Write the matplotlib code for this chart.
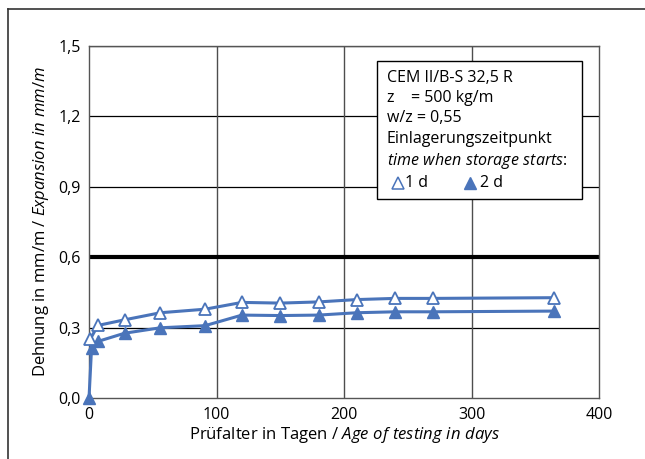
import matplotlib
matplotlib.use("Agg")
import matplotlib.pyplot as plt
from matplotlib.lines import Line2D

plt.rcParams['font.family'] = ['Open Sans', 'DejaVu Sans']
plt.rcParams['mathtext.fontset'] = 'custom'
plt.rcParams['mathtext.rm'] = 'Open Sans'
plt.rcParams['mathtext.it'] = 'Open Sans:italic'

# data
tage_1d = [1, 7, 28, 56, 91, 120, 150, 180, 210, 240, 270, 365]
dehnung_1d = [0.252, 0.31, 0.334, 0.364, 0.379, 0.408, 0.405, 0.41, 0.42, 0.425, 0.425, 0.428]
tage_2d = [0, 2, 7, 28, 56, 91, 120, 150, 180, 210, 240, 270, 365]
dehnung_2d = [0.0, 0.213, 0.242, 0.277, 0.3, 0.309, 0.354, 0.352, 0.354, 0.364, 0.368, 0.368, 0.371]
grenzwert = 0.6
yticks = [0.0, 0.3, 0.6, 0.9, 1.2, 1.5]
xticks = [0, 100, 200, 300, 400]
info_lines = ["CEM II/B-S 32,5 R", "z    = 500 kg/m", "w/z = 0,55", "Einlagerungszeitpunkt",
              r"$\mathit{time\ when\ storage\ starts}$:"]

blue = "#4a74ba"

fig = plt.figure(figsize=(6.45, 4.59), dpi=100)
ax = fig.add_axes([89 / 645, 60.7 / 459, 510 / 645, 352.6 / 459])

# gridlines
for y in yticks[1:]:
    if y == grenzwert:
        continue
    ax.axhline(y, color="black", lw=0.9, zorder=1)
for x in xticks[1:-1]:
    ax.axvline(x, color="#4d4d4d", lw=1.0, zorder=1)
ax.axhline(grenzwert, color="black", lw=3.0, zorder=2)

ax.plot(tage_2d, dehnung_2d, color=blue, lw=2.2, marker="^", ms=9,
        mfc=blue, mec=blue, zorder=3, clip_on=False)
ax.plot(tage_1d, dehnung_1d, color=blue, lw=2.2, marker="^", ms=9,
        mfc="white", mec=blue, mew=1.3, zorder=4, clip_on=False)

ax.set_xlim(0, 400)
ax.set_ylim(0, 1.5)
ax.set_xticks(xticks)
ax.set_yticks(yticks)
ax.set_yticklabels([f"{v:.1f}".replace(".", ",") for v in yticks])
ax.tick_params(length=0, labelsize=11.5, pad=6)
for s in ax.spines.values():
    s.set_color("#555555")
    s.set_linewidth(1.0)

ax.set_xlabel(r"Prüfalter in Tagen / $\mathit{Age\ of\ testing\ in\ days}$", fontsize=12, labelpad=2)
ax.set_ylabel(r"Dehnung in mm/m / $\mathit{Expansion\ in\ mm/m}$", fontsize=12, labelpad=5)

# info box
bx0, bx1 = 0.565, 0.967
by0, by1 = 0.565, 0.957
ax.add_patch(plt.Rectangle((bx0, by0), bx1 - bx0, by1 - by0, transform=ax.transAxes,
                           facecolor="white", edgecolor="black", lw=1.0, zorder=5))
tx = (387 - 89) / 510
line_y = [78, 98, 118, 139, 161]
for txt, yp in zip(info_lines, line_y):
    ax.text(tx, (398.3 - yp) / 352.6, txt, transform=ax.transAxes, fontsize=11.5,
            va="center", ha="left", zorder=6)
ly = (398.3 - 183) / 352.6
ax.plot([(398 - 89) / 510], [ly], transform=ax.transAxes, marker="^", ms=9,
        mfc="white", mec=blue, mew=1.1, ls="none", zorder=6, clip_on=False)
ax.text((405 - 89) / 510, ly, "1 d", transform=ax.transAxes, fontsize=11.5,
        va="center", ha="left", zorder=6)
ax.plot([(470 - 89) / 510], [ly], transform=ax.transAxes, marker="^", ms=9,
        mfc=blue, mec=blue, ls="none", zorder=6, clip_on=False)
ax.text((480 - 89) / 510, ly, "2 d", transform=ax.transAxes, fontsize=11.5,
        va="center", ha="left", zorder=6)

# outer frame (left and top only visible)
fig.add_artist(Line2D([8 / 645, 8 / 645], [0, 1 - 9 / 459], color="#333333", lw=1.2))
fig.add_artist(Line2D([8 / 645, 1], [1 - 9 / 459, 1 - 9 / 459], color="#333333", lw=1.2))

fig.savefig("out.png", dpi=100)
